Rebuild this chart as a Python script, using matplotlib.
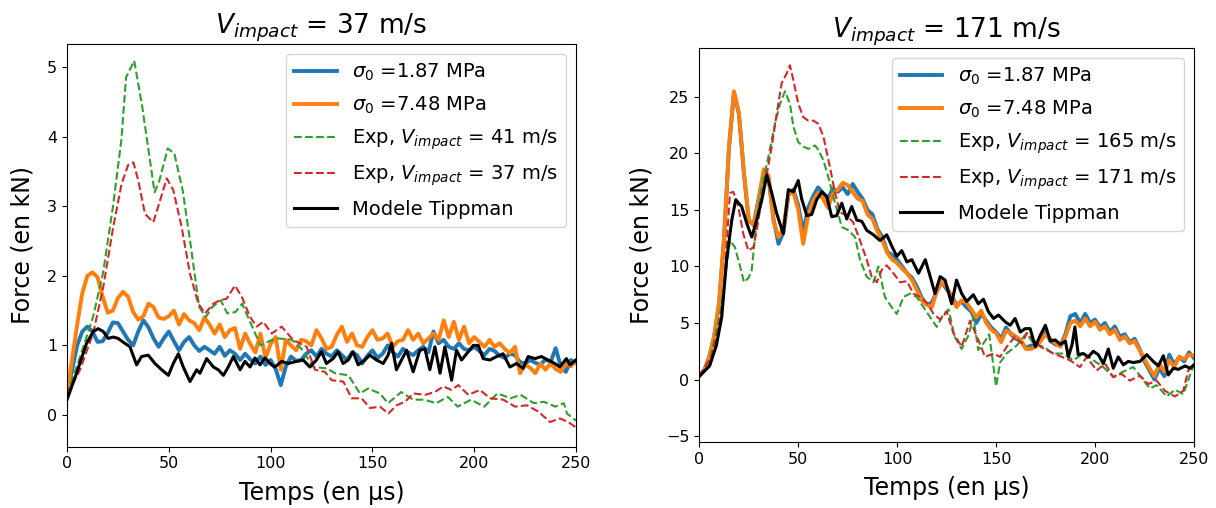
import numpy as np
import matplotlib

matplotlib.use("Agg")
import matplotlib.pyplot as plt

# --- données gauche : V_impact = 37 m/s ---
t_sim = np.arange(0, 250.1, 2.5)  # pas de temps des simulations (µs)

sim_187_v37 = [
    0.30, 0.65, 1.00, 1.20, 1.27, 1.20, 1.05, 1.06, 1.18, 1.33,
    1.32, 1.20, 1.08, 1.00, 1.20, 1.36, 1.26, 1.10, 0.98, 1.10,
    1.20, 1.06, 0.93, 1.05, 1.12, 1.00, 0.92, 0.98, 0.93, 0.88,
    0.98, 0.85, 0.93, 0.88, 0.79, 0.88, 0.80, 0.74, 0.84, 0.72,
    0.79, 0.66, 0.43, 0.70, 0.84, 0.78, 0.79, 0.88, 0.93, 0.84,
    0.95, 0.88, 0.84, 0.93, 0.86, 0.79, 0.90, 0.86, 0.74, 0.85,
    0.93, 0.82, 0.88, 1.00, 0.90, 0.84, 0.95, 0.90, 0.86, 0.93,
    0.98, 0.90, 1.20, 1.03, 1.08, 0.98, 0.95, 1.03, 0.95, 0.93,
    0.98, 0.92, 0.86, 0.95, 0.92, 0.85, 0.82, 0.88, 0.86, 0.76,
    0.74, 0.79, 0.75, 0.72, 0.80, 0.76, 0.96, 0.70, 0.62, 0.79,
    0.75,
]
sim_748_v37 = [
    0.30, 0.80, 1.30, 1.75, 2.00, 2.05, 1.98, 1.70, 1.47, 1.50,
    1.68, 1.77, 1.70, 1.48, 1.37, 1.42, 1.60, 1.55, 1.40, 1.38,
    1.42, 1.50, 1.30, 1.45, 1.36, 1.32, 1.22, 1.40, 1.30, 1.17,
    1.30, 1.12, 1.22, 1.25, 0.95, 1.17, 1.02, 0.90, 1.17, 0.82,
    1.02, 1.12, 0.65, 1.08, 1.00, 0.93, 1.08, 1.06, 1.00, 1.22,
    1.10, 0.95, 0.98, 1.15, 1.27, 1.05, 1.17, 1.00, 0.98, 1.12,
    1.22, 1.08, 1.10, 1.17, 0.98, 1.06, 1.08, 1.22, 1.08, 1.17,
    1.03, 1.10, 1.17, 1.08, 1.36, 1.12, 1.34, 1.08, 1.27, 1.03,
    1.12, 1.05, 0.98, 1.08, 0.98, 1.03, 0.95, 0.89, 0.98, 0.60,
    0.72, 0.68, 0.60, 0.74, 0.65, 0.74, 0.66, 0.62, 0.74, 0.70,
    0.78,
]

t_exp41 = [
    0, 6, 12.8, 17.7, 22.5, 26.7, 29, 33, 37, 40.5,
    43, 45.4, 49.5, 52.7, 56.8, 60.9, 64.9, 68.2, 71.3, 75.5,
    78.7, 82.8, 86, 90.2, 95, 100.7, 104, 110.4, 115.2, 121,
    127.6, 131.7, 138.2, 143.9, 147.9, 153.6, 157.7, 164.2, 170, 175.6,
    181.3, 187, 191.9, 198.4, 204.9, 211.4, 217.9, 222.8, 229.3, 234.2,
    239.9, 244, 245.6, 250,
]
exp41 = [
    0.3, 0.8, 1.41, 2.04, 2.98, 3.95, 4.85, 5.09, 4.42, 3.71,
    3.2, 3.37, 3.83, 3.76, 3.23, 2.41, 1.55, 1.41, 1.55, 1.65,
    1.46, 1.48, 1.6, 1.32, 1.0, 1.08, 1.1, 1.08, 0.95, 0.69,
    0.67, 0.6, 0.57, 0.31, 0.38, 0.31, 0.17, 0.33, 0.22, 0.22,
    0.17, 0.26, 0.12, 0.22, 0.12, 0.31, 0.24, 0.29, 0.17, 0.19,
    0.12, 0.17, 0.02, -0.08,
]

t_exp37 = [
    0, 6.4, 12.9, 17.8, 22.7, 26.8, 30, 32.6, 35, 38.3,
    42.4, 45.7, 49, 52.2, 56.3, 60.4, 64.5, 67.8, 71.9, 75.1,
    78.4, 82.5, 85.8, 89.9, 93.2, 96.4, 100.5, 105.4, 111, 117.7,
    121.8, 126.7, 130, 135.7, 139.8, 144.7, 148.8, 153.7, 157.8, 161.9,
    166, 170.1, 175.8, 180.7, 184.8, 188.9, 192.2, 197.1, 202.8, 207.8,
    214.3, 220.1, 225.8, 231.5, 237.2, 242.1, 246.2, 250,
]
exp37 = [
    0.3, 0.65, 1.18, 1.84, 2.7, 3.32, 3.59, 3.63, 3.37, 2.89,
    2.77, 3.08, 3.4, 3.23, 2.7, 2.03, 1.6, 1.46, 1.6, 1.65,
    1.67, 1.86, 1.7, 1.41, 1.27, 1.34, 1.17, 1.27, 1.08, 0.98,
    0.65, 0.62, 0.5, 0.48, 0.24, 0.24, 0.1, 0.12, 0.02, 0.14,
    0.19, 0.31, 0.29, 0.33, 0.41, 0.36, 0.43, 0.29, 0.36, 0.24,
    0.22, 0.12, 0.14, 0.05, -0.1, -0.05, -0.1, -0.18,
]

t_tipp37 = [
    0, 4.7, 9.6, 12.9, 15.3, 17.8, 20.2, 22.7, 25.1, 28.4,
    30.9, 34.2, 36.6, 39.9, 43.2, 46.5, 49.8, 52.2, 54.7, 57.1,
    60.4, 63.7, 65.3, 68.6, 71.9, 74.3, 76.8, 79.2, 81.7, 85,
    87.4, 89.9, 92.3, 94.8, 97.2, 100.5, 102.1, 105.4, 108.6, 112.7,
    116, 119.3, 122.5, 125, 127.4, 130.7, 133.1, 135.6, 138.1, 140.5,
    143, 146.2, 148.7, 152, 155.3, 157.7, 159.4, 161.8, 164.3, 166.8,
    170, 173.3, 175.8, 178.2, 180.7, 183.2, 185.6, 188.9, 191.3, 193.8,
    197.1, 199.5, 202, 204.4, 207.7, 211, 214.2, 217.5, 220.8, 224,
    226.5, 229.8, 233, 236.3, 239.6, 242, 245.3, 247, 250,
]
tipp37 = [
    0.22, 0.6, 1.03, 1.2, 1.24, 1.2, 1.1, 1.12, 1.1, 1.03,
    0.98, 0.72, 0.84, 0.86, 0.74, 0.65, 0.57, 0.74, 0.88, 0.69,
    0.48, 0.65, 0.6, 0.81, 0.69, 0.65, 0.57, 0.69, 0.84, 0.65,
    0.77, 0.69, 0.82, 0.72, 0.82, 0.72, 0.69, 0.77, 0.74, 0.77,
    0.79, 0.69, 0.79, 0.91, 0.74, 0.81, 0.91, 0.74, 0.79, 0.91,
    0.72, 0.79, 0.86, 0.79, 0.74, 0.86, 1.03, 0.65, 0.79, 0.93,
    0.62, 0.93, 0.95, 0.65, 0.98, 0.6, 0.98, 0.5, 0.93, 0.79,
    0.91, 1.0, 1.0, 0.81, 0.79, 0.84, 0.88, 0.69, 0.74, 0.67,
    0.84, 0.81, 0.84, 0.79, 0.74, 0.69, 0.81, 0.72, 0.79,
]

# --- données droite : V_impact = 171 m/s ---
sim_187_v171 = [
    0.30, 0.80, 2.00, 3.80, 6.80, 12.5, 20.5, 25.4, 23.5, 18.3,
    14.0, 13.8, 16.0, 18.3, 17.8, 14.2, 12.0, 13.0, 16.3, 16.8,
    15.4, 13.0, 15.2, 16.2, 17.0, 16.5, 16.0, 16.9, 16.6, 17.0,
    16.4, 17.3, 16.6, 16.0, 15.0, 14.6, 13.3, 12.6, 11.3, 11.0,
    10.6, 10.0, 9.4, 9.0, 8.2, 7.2, 6.6, 6.8, 7.8, 8.6,
    8.0, 7.4, 6.6, 6.9, 6.4, 6.0, 5.0, 5.8, 5.2, 4.6,
    4.2, 3.6, 4.6, 4.0, 3.6, 3.4, 2.8, 3.0, 3.0, 3.6,
    4.2, 3.4, 3.1, 3.0, 4.0, 5.6, 5.8, 5.0, 5.8, 5.0,
    5.3, 4.6, 5.0, 4.2, 4.7, 3.8, 4.0, 3.3, 3.6, 2.7,
    1.6, 0.8, 0.0, 1.0, 0.3, 2.2, 1.3, 2.0, 1.6, 2.4,
    1.9,
]
sim_748_v171 = [
    0.30, 0.80, 2.00, 3.80, 6.80, 12.5, 20.6, 25.5, 23.6, 18.4,
    14.1, 13.6, 15.8, 18.6, 18.0, 14.0, 12.6, 13.4, 16.4, 16.6,
    15.0, 12.0, 14.5, 15.8, 16.5, 16.0, 15.2, 16.4, 16.8, 17.4,
    17.2, 16.6, 16.0, 15.8, 14.6, 14.2, 13.1, 12.3, 11.2, 10.6,
    10.3, 9.8, 9.4, 8.8, 7.9, 7.0, 6.6, 6.4, 7.8, 8.6,
    8.2, 7.3, 6.4, 7.0, 6.8, 6.2, 5.5, 6.1, 5.0, 4.4,
    4.1, 3.3, 4.3, 4.1, 3.8, 3.5, 2.7, 2.7, 2.9, 3.4,
    4.0, 3.6, 3.2, 2.9, 3.8, 5.0, 5.2, 4.7, 5.4, 4.7,
    5.1, 4.4, 4.7, 4.0, 4.4, 3.5, 3.8, 3.2, 3.4, 2.6,
    1.8, 1.0, 0.3, 1.4, 0.7, 1.7, 1.1, 2.0, 1.8, 2.2,
    2.1,
]

t_exp165 = [
    0, 5.3, 10.5, 13.8, 15.5, 18, 20.6, 22.6, 24.9, 26.5,
    29, 31.5, 34.9, 38.3, 40.8, 43.3, 45.8, 47.5, 50, 52.6,
    55.1, 58.5, 60.2, 62.7, 65.2, 68.6, 72, 75.4, 78.7, 81.2,
    84.6, 88, 90.5, 93.8, 97.2, 99.8, 103.2, 106.5, 109.9, 113.3,
    116.7, 120, 123.4, 126, 129, 132.6, 136, 138.5, 141, 144.4,
    146.5, 150, 152, 155.3, 160.4, 165.4, 168.8, 173.9, 178.9, 184,
    189, 194.1, 199.1, 204.2, 209.2, 214.3, 219.3, 224.4, 227.7, 231.1,
    236.2, 240.4, 244.6, 248.8, 250,
]
exp165 = [
    0.3, 1.7, 5.8, 10.0, 12.3, 11.7, 10.0, 8.6, 9.0, 9.7,
    14.1, 17.0, 19.7, 22.7, 24.4, 25.5, 24.4, 22.4, 21.0, 20.6,
    20.4, 20.7, 20.3, 19.4, 17.9, 15.6, 13.5, 13.2, 12.6, 10.6,
    9.1, 8.6, 10.0, 7.3, 6.4, 5.8, 7.3, 7.6, 7.3, 6.4,
    5.5, 4.65, 5.8, 6.2, 3.8, 2.7, 3.9, 5.5, 2.6, 3.4,
    4.0, -0.6, 1.5, 2.3, 3.0, 4.1, 3.2, 2.9, 2.3, 2.3,
    1.7, 2.3, 1.7, 1.1, 0.23, 0.7, 1.1, -0.06, -0.8, -0.5,
    -1.5, -0.9, -1.3, 0.8, 1.2,
]

t_exp171 = [
    0, 6, 10, 12.1, 13.9, 15.5, 17.2, 19.7, 22.2, 24.8,
    27.3, 29, 31.5, 34.1, 36.6, 39.1, 41.6, 44.2, 45.8, 47.5,
    50, 52.6, 55.1, 57.7, 60.2, 62.7, 66, 68.6, 71.1, 74.4,
    77.8, 81.2, 84.6, 87.1, 89.7, 92.2, 94.7, 98.1, 101.5, 104.9,
    108.2, 111.6, 115, 118.4, 121.8, 125.1, 128.4, 132.6, 136.8, 141,
    144.4, 148.7, 152, 155.4, 159.6, 163, 165.5, 168.9, 172.3, 175.6,
    179, 183.2, 187.3, 192.4, 195.8, 200.8, 205.1, 209.2, 213.4, 217.6,
    222.7, 226.9, 231.1, 235.3, 240.4, 244.6, 247.1, 250,
]
exp171 = [
    0.3, 2.0, 4.8, 7.0, 12.3, 16.5, 16.6, 15.3, 12.9, 11.4,
    11.7, 13.2, 15.9, 18.2, 20.6, 23.5, 26.2, 27.1, 27.8, 26.5,
    24.4, 23.2, 22.9, 22.9, 22.6, 21.5, 18.8, 16.5, 14.8, 14.5,
    13.9, 12.3, 10.6, 9.1, 8.6, 9.7, 10.1, 9.4, 8.6, 8.7,
    7.6, 7.3, 6.8, 5.8, 5.3, 6.0, 4.1, 2.9, 5.2, 3.5,
    2.0, 2.3, 2.0, 2.9, 3.8, 3.2, 4.1, 3.5, 2.9, 2.6,
    2.3, 2.0, 1.7, 1.1, 2.0, 0.8, 1.4, 0.2, 0.5, -0.1,
    0.35, -0.4, -0.1, -1.0, -1.5, -1.0, 0.8, 1.4,
]

t_tipp171 = [
    0, 5.2, 8.6, 11.3, 13.8, 16.4, 18.4, 21.4, 24, 26.5,
    29, 31.6, 34.1, 36.6, 39.1, 42.4, 45, 47.5, 50, 51.7,
    54.3, 56.8, 59.3, 61.9, 64.4, 66.9, 69.4, 72, 74.5, 77,
    79.6, 82.1, 84.6, 88, 91.3, 94.7, 97.3, 99.8, 102.3, 104.9,
    107.4, 110.8, 114.2, 116.7, 119.1, 121.7, 124.2, 127.5, 130, 132.6,
    135.1, 138.5, 141, 143.6, 146.1, 148.7, 151.2, 154.6, 157.1, 159.6,
    162.2, 164.7, 167.2, 169.8, 172.3, 174.9, 177.4, 179.9, 182.5, 185,
    186.5, 188.4, 189.8, 191.5, 194, 196.6, 199.1, 201.6, 204.2, 206.7,
    209.2, 211.7, 214.3, 216.8, 219.3, 222.7, 226.1, 229.4, 232, 234.5,
    237, 239.6, 242.1, 245.5, 248, 250,
]
tipp171 = [
    0.3, 1.2, 3.0, 5.5, 10.6, 14.1, 15.9, 15.3, 13.8, 12.6,
    14.1, 15.9, 18.1, 16.5, 14.7, 12.9, 16.8, 16.6, 17.6, 16.0,
    14.5, 14.6, 15.9, 16.6, 16.2, 14.4, 14.5, 15.6, 14.2, 15.3,
    14.1, 14.0, 13.2, 12.8, 12.3, 12.8, 11.8, 10.9, 11.4, 10.4,
    10.6, 9.4, 10.6, 9.1, 7.6, 9.1, 8.8, 6.7, 8.8, 7.6,
    6.9, 7.5, 6.7, 7.1, 6.0, 5.4, 5.7, 5.1, 4.8, 5.4,
    4.2, 4.5, 4.5, 2.9, 3.9, 4.8, 3.4, 3.5, 3.1, 3.4,
    2.0, 3.1, 4.65, 2.2, 2.3, 2.0, 2.5, 2.2, 1.4, 2.7,
    1.0, 2.0, 1.3, 1.6, 1.5, 1.6, 2.2, 1.6, 1.2, 2.1,
    0.4, 1.0, 0.9, 1.2, 1.0, 1.3,
]


def panel(ax, sim_a, sim_b, t_g, g, lab_g, t_r, r, lab_r, t_k, k, vtitle):
    ax.plot(t_sim, sim_a, color="tab:blue", lw=2.8, label=r"$\sigma_0$ =1.87 MPa")
    ax.plot(t_sim, sim_b, color="tab:orange", lw=2.8, label=r"$\sigma_0$ =7.48 MPa")
    ax.plot(t_g, g, "--", color="tab:green", lw=1.5, label=lab_g)
    ax.plot(t_r, r, "--", color="tab:red", lw=1.5, label=lab_r)
    ax.plot(t_k, k, color="black", lw=2.2, label="Modele Tippman")
    ax.set_xlim(0, 250)
    ax.set_xlabel("Temps (en µs)", fontsize=17, labelpad=7)
    ax.set_ylabel("Force (en kN)", fontsize=17, labelpad=9)
    ax.set_title(r"$V_{impact}$ = %s m/s" % vtitle, fontsize=19)
    ax.tick_params(labelsize=11.5)
    ax.legend(loc="upper right", fontsize=14, labelspacing=0.6, handlelength=2.2)


fig = plt.figure(figsize=(12.16, 5.08), dpi=100)
ax1 = fig.add_axes([0.0551, 0.1207, 0.4186, 0.7927])
ax2 = fig.add_axes([0.5751, 0.1299, 0.4068, 0.775])

panel(ax1, sim_187_v37, sim_748_v37,
      t_exp41, exp41, r"Exp, $V_{impact}$ = 41 m/s",
      t_exp37, exp37, r"Exp, $V_{impact}$ = 37 m/s",
      t_tipp37, tipp37, "37")
ax1.set_ylim(-0.455, 5.33)

panel(ax2, sim_187_v171, sim_748_v171,
      t_exp165, exp165, r"Exp, $V_{impact}$ = 165 m/s",
      t_exp171, exp171, r"Exp, $V_{impact}$ = 171 m/s",
      t_tipp171, tipp171, "171")
ax2.set_ylim(-5.53, 29.3)

fig.savefig("out.png", dpi=100)
